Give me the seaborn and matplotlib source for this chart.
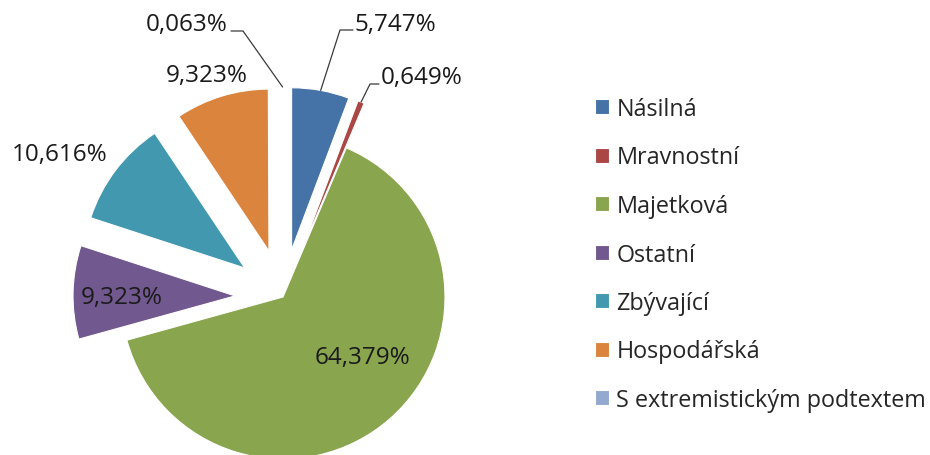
import numpy as np
import matplotlib.pyplot as plt
import seaborn as sns

# data
categories = ["Násilná", "Mravnostní", "Majetková", "Ostatní",
              "Zbývající", "Hospodářská", "S extremistickým podtextem"]
shares = [5.747, 0.649, 64.379, 9.323, 10.616, 9.323, 0.063]
colors = ["#4572A7", "#AA4643", "#89A54E", "#71588F",
          "#4198AF", "#DB843D", "#93A9CF"]

# layout (pixels, origin top-left)
W, H = 930, 456
R = 162
CENTER = (283, 298)
EXPLODE = [48, 48, 0, 48, 48, 48, 48]
# label text centre, and optional leader elbow + end point
label_pos = [(395, 25), (422, 78), (362, 358), (122, 298), (60, 155), (207, 76), (187, 25)]
leaders = {0: [(340, 31), (353, 31)], 1: [(370, 85), (379, 85)], 6: [(243, 32), (231, 32)]}

sns.set_theme(style="white")
plt.rcParams['font.family'] = ['Open Sans', 'DejaVu Sans']

fig = plt.figure(figsize=(W / 100, H / 100), dpi=100)
ax = fig.add_axes([0, 0, 1, 1])

wedges, _ = ax.pie(shares, explode=EXPLODE, radius=R, center=(CENTER[0], H - CENTER[1]),
                   startangle=90, counterclock=False, colors=colors,
                   wedgeprops=dict(edgecolor="white", linewidth=0.8))
ax.set_xlim(0, W)
ax.set_ylim(0, H)
ax.set_aspect("equal")
ax.axis("off")

def fmt(v):
    return f"{v:.3f}".replace(".", ",") + "%"

for i, (w, v) in enumerate(zip(wedges, shares)):
    tx, ty = label_pos[i]
    ax.text(tx, H - ty, fmt(v), ha="center", va="center", fontsize=17.5, color="#1a1a1a")
    if i in leaders:
        mid = np.deg2rad((w.theta1 + w.theta2) / 2)
        sx = w.center[0] + w.r * np.cos(mid)
        sy = w.center[1] + w.r * np.sin(mid)
        xs = [sx] + [p[0] for p in leaders[i]]
        ys = [sy] + [H - p[1] for p in leaders[i]]
        ax.plot(xs, ys, color="#3a3a3a", lw=0.9)

ax.legend(wedges, categories, loc="upper left", bbox_to_anchor=(595 / W, 1 - 98 / H),
          bbox_transform=fig.transFigure, frameon=False, fontsize=16.8,
          handlelength=0.62, handleheight=0.62, handletextpad=0.3, labelspacing=1.05,
          borderaxespad=0, borderpad=0)

fig.savefig("out.png", dpi=100)
